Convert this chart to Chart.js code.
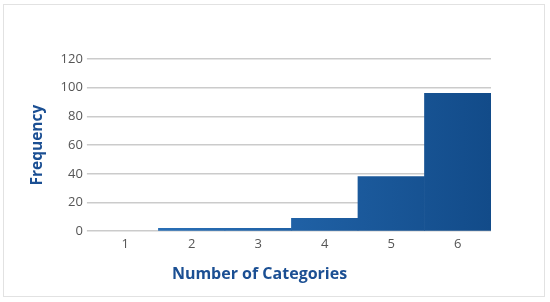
<!DOCTYPE html>
<html>
<head>
<meta charset="utf-8">
<script src="https://cdn.jsdelivr.net/npm/chart.js@4/dist/chart.umd.min.js"></script>
<style>
  html, body { margin: 0; padding: 0; background: #fff; }
  .frame {
    position: absolute; left: 3px; top: 4px; width: 540px; height: 291px;
    border: 1.5px solid #e2e2e2;
  }
  .wrap { position: absolute; left: 0; top: 0; width: 550px; height: 302px; }
</style>
</head>
<body>
<div class="frame"></div>
<div class="wrap"><canvas id="histChart" width="550" height="302"></canvas></div>
<script>
// histogram data
const categories = ['1', '2', '3', '4', '5', '6'];
const frequency = [0, 2, 2, 9, 38, 96];
const yTicks = [0, 20, 40, 60, 80, 100, 120];

const fontFamily = '"Open Sans", "DejaVu Sans", sans-serif';
const titleBlue = '#1b4f93';

// horizontal gradient across the plot, light blue on the left to dark on the right
function barFill(ctx) {
  const area = ctx.chart.chartArea;
  if (ctx.raw === 0) return 'rgba(0,0,0,0)';
  if (!area) return '#1d5c9e';
  const g = ctx.chart.ctx.createLinearGradient(area.left, 0, area.right, 0);
  g.addColorStop(0, '#2f76bd');
  g.addColorStop(0.45, '#2163a8');
  g.addColorStop(1, '#124b89');
  return g;
}

new Chart(document.getElementById('histChart'), {
  type: 'bar',
  data: {
    labels: categories,
    datasets: [{
      label: 'Frequency',
      data: frequency,
      backgroundColor: barFill,
      borderWidth: 0,
      barPercentage: 1,
      categoryPercentage: 1
    }]
  },
  options: {
    responsive: false,
    animation: false,
    layout: { padding: { left: 28, right: 59, top: 59, bottom: 18 } },
    scales: {
      x: {
        grid: { display: false, drawTicks: false },
        border: { display: false },
        ticks: { color: '#555', font: { family: fontFamily, size: 13 }, padding: 5 }
      },
      y: {
        min: 0,
        max: 120,
        afterBuildTicks: axis => { axis.ticks = yTicks.map(v => ({ value: v })); },
        border: { display: false },
        grid: { color: '#cbcbcb', lineWidth: 1.5, tickLength: 5, tickColor: '#cbcbcb' },
        ticks: { color: '#555', font: { family: fontFamily, size: 13 }, padding: 4 },
        title: {
          display: true,
          text: 'Frequency',
          color: titleBlue,
          font: { family: fontFamily, size: 15.5, weight: 'bold' },
          padding: { top: 0, bottom: 10 }
        }
      }
    },
    plugins: {
      legend: { display: false },
      tooltip: { enabled: false },
      title: {
        display: true,
        position: 'bottom',
        text: 'Number of Categories',
        color: titleBlue,
        font: { family: fontFamily, size: 16, weight: 'bold' },
        padding: { top: 8, bottom: 0 }
      }
    }
  }
});
</script>
</body>
</html>
